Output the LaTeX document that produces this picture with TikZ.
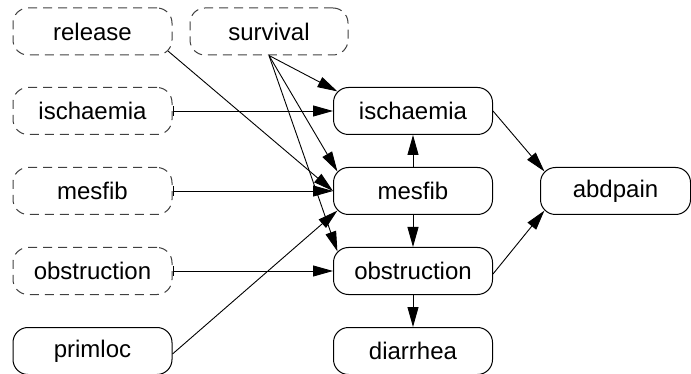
\documentclass[tikz,border=0pt]{standalone}
\usepackage{fontspec}
\setmainfont{Liberation Sans}
\usetikzlibrary{arrows.meta}
\begin{document}
\begin{tikzpicture}[x=1pt,y=-1pt,
  var/.style={draw, line width=1pt, rounded corners=15pt, minimum width=159pt,
    minimum height=47pt, inner sep=0pt, font=\fontsize{24}{28}\selectfont},
  latent/.style={var, dashed, dash pattern=on 9pt off 6pt, draw=black!75},
  edge/.style={line width=0.9pt, -{Triangle[length=20pt,width=11pt]}},
  cut/.style={line width=0.9pt, {Bar[width=10pt,line width=0.9pt]}-{Triangle[length=20pt,width=11pt]}}]
\useasboundingbox (0,0) rectangle (691,374);
% exogenous (dashed) variables on the left
\node[latent] (rel)  at (92.5,31.5) {release};
\node[latent, minimum width=158pt] (surv) at (269,31.5) {survival};
\node[latent] (ischd) at (92.5,111) {ischaemia};
\node[latent] (mesd)  at (92.5,191) {mesfib};
\node[latent] (obsd)  at (92.5,271) {obstruction};
\node[var]    (prim)  at (92.5,351) {primloc};
% model variables
\node[var] (isch) at (413,111) {ischaemia};
\node[var] (mes)  at (413,191) {mesfib};
\node[var] (obs)  at (413,271) {obstruction};
\node[var] (dia)  at (413,351) {diarrhea};
\node[var, minimum width=150pt] (abd) at (615.5,191) {abdpain};
% connectors
\draw[edge] ([shift={(-4.4,-4.4)}]rel.south east) -- (mes.west);
\draw[edge] (surv.south) -- ([shift={(4.4,4.4)}]isch.north west);
\draw[edge] (surv.south) -- ([shift={(4.4,4.4)}]mes.north west);
\draw[edge] (surv.south) -- ([shift={(4.4,4.4)}]obs.north west);
\draw[cut] (ischd.east) -- (isch.west);
\draw[cut] (mesd.east) -- (mes.west);
\draw[cut] (obsd.east) -- (obs.west);
\draw[edge] ([yshift=-3]prim.east) -- ([shift={(4.4,-4.4)}]mes.south west);
\draw[edge] (mes.north) -- (isch.south);
\draw[edge] (mes.south) -- (obs.north);
\draw[edge] (obs.south) -- (dia.north);
\draw[edge] (isch.east) -- ([shift={(4.4,4.4)}]abd.north west);
\draw[edge] ([yshift=-3]obs.east) -- ([shift={(4.4,-4.4)}]abd.south west);
\end{tikzpicture}
\end{document}
